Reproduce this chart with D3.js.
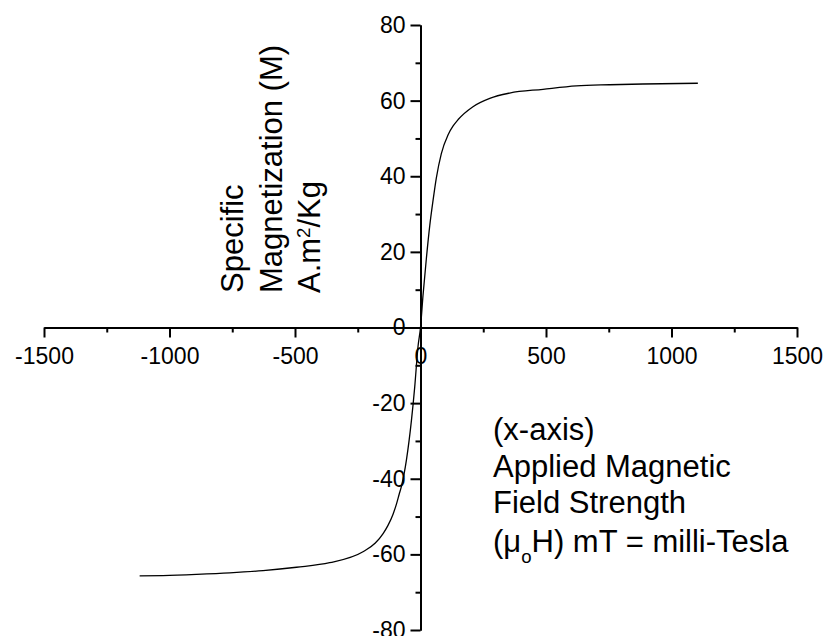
<!DOCTYPE html>
<html>
<head>
<meta charset="utf-8">
<script src="https://cdn.jsdelivr.net/npm/d3@7"></script>
<style>
  body { margin: 0; background: #fff; }
  svg { display: block; }
  text { font-family: Arial, "Liberation Sans", sans-serif; fill: #000; }
</style>
</head>
<body>
<svg id="chart" width="829" height="636"></svg>
<script>
// Applied field (mT) and specific magnetization (A.m²/Kg) along the loop
const fieldValues = [-1119, -1026, -893, -760, -627, -494, -362, -229, -180, -149, -130, -109, -95, -85, -76, -56, -36, -23, -10, 0,
                     10, 23, 37, 50, 63, 83, 110, 130, 150, 209, 276, 355, 488, 621, 754, 886, 1105];
const magnetization = [-65.7, -65.6, -65.3, -64.9, -64.3, -63.4, -62.2, -59.3, -57.0, -54.5, -52.4, -49.3, -46.5, -44.1, -42, -35, -24.5, -15.7, -5.1, 0,
                       8.5, 18, 27, 33.6, 39.5, 46, 51, 53.3, 55, 58.4, 60.6, 62, 63, 63.9, 64.2, 64.4, 64.6];

const xTicks = [-1500, -1000, -500, 0, 500, 1000, 1500];
const xMinorTicks = [-1250, -750, -250, 250, 750, 1250];
const yTicks = [-80, -60, -40, -20, 0, 20, 40, 60, 80];
const yMinorTicks = [-70, -50, -30, -10, 10, 30, 50, 70];

const yTitleLines = ["Specific", "Magnetization (M)", "A.m|2|/Kg"];
const xTitleLines = ["(x-axis)", "Applied Magnetic", "Field Strength", "(μ|o|H) mT = milli-Tesla"];

const svg = d3.select("#chart");

const x = d3.scaleLinear().domain([-1500, 1500]).range([44, 797]);
const y = d3.scaleLinear().domain([-80, 80]).range([630, 25]);

const x0 = x(0), y0 = y(0);
const plainNumber = d => String(d);

function styleAxis(g) {
  g.select(".domain").attr("stroke", "#000").attr("stroke-width", 2);
  g.selectAll(".tick line").attr("stroke", "#000").attr("stroke-width", 2);
  g.selectAll(".tick text").style("font-size", "23px").attr("fill", "#000");
}

// minor ticks
svg.append("g")
  .attr("transform", `translate(0,${y0})`)
  .call(d3.axisBottom(x).tickValues(xMinorTicks).tickSize(5).tickSizeOuter(0).tickFormat(""))
  .call(styleAxis);
svg.append("g")
  .attr("transform", `translate(${x0},0)`)
  .call(d3.axisLeft(y).tickValues(yMinorTicks).tickSize(5).tickSizeOuter(0).tickFormat(""))
  .call(styleAxis);

// major ticks and labels
svg.append("g")
  .attr("transform", `translate(0,${y0})`)
  .call(d3.axisBottom(x).tickValues(xTicks).tickSize(10).tickSizeOuter(0).tickPadding(10).tickFormat(plainNumber))
  .call(styleAxis);
svg.append("g")
  .attr("transform", `translate(${x0},0)`)
  .call(d3.axisLeft(y).tickValues(yTicks).tickSize(10).tickSizeOuter(0).tickPadding(5).tickFormat(plainNumber))
  .call(styleAxis);

// magnetization curve
const pts = fieldValues.map((f, i) => [f, magnetization[i]]);
svg.append("path")
  .datum(pts)
  .attr("fill", "none")
  .attr("stroke", "#000")
  .attr("stroke-width", 1.3)
  .attr("d", d3.line().x(d => x(d[0])).y(d => y(d[1])).curve(d3.curveMonotoneX));

// writes a line; segments between "|" alternate normal / shifted (super or sub)
function richLine(textSel, str, shift) {
  str.split("|").forEach((part, i) => {
    const t = textSel.append("tspan").text(part);
    if (i % 2 === 1) {
      t.style("font-size", "0.6em").attr("baseline-shift", shift);
    }
  });
}

// y-axis title, rotated
const yTitle = svg.append("g").attr("transform", "translate(0,293) rotate(-90)");
yTitleLines.forEach((line, i) => {
  const t = yTitle.append("text")
    .attr("x", 0)
    .attr("y", 243 + i * 38.5)
    .style("font-size", "31px");
  richLine(t, line, "super");
});

// x-axis title
const xTitleBaselines = [440, 477, 513, 552];
xTitleLines.forEach((line, i) => {
  const t = svg.append("text")
    .attr("x", 493)
    .attr("y", xTitleBaselines[i])
    .style("font-size", "31px");
  richLine(t, line, "sub");
});
</script>
</body>
</html>
